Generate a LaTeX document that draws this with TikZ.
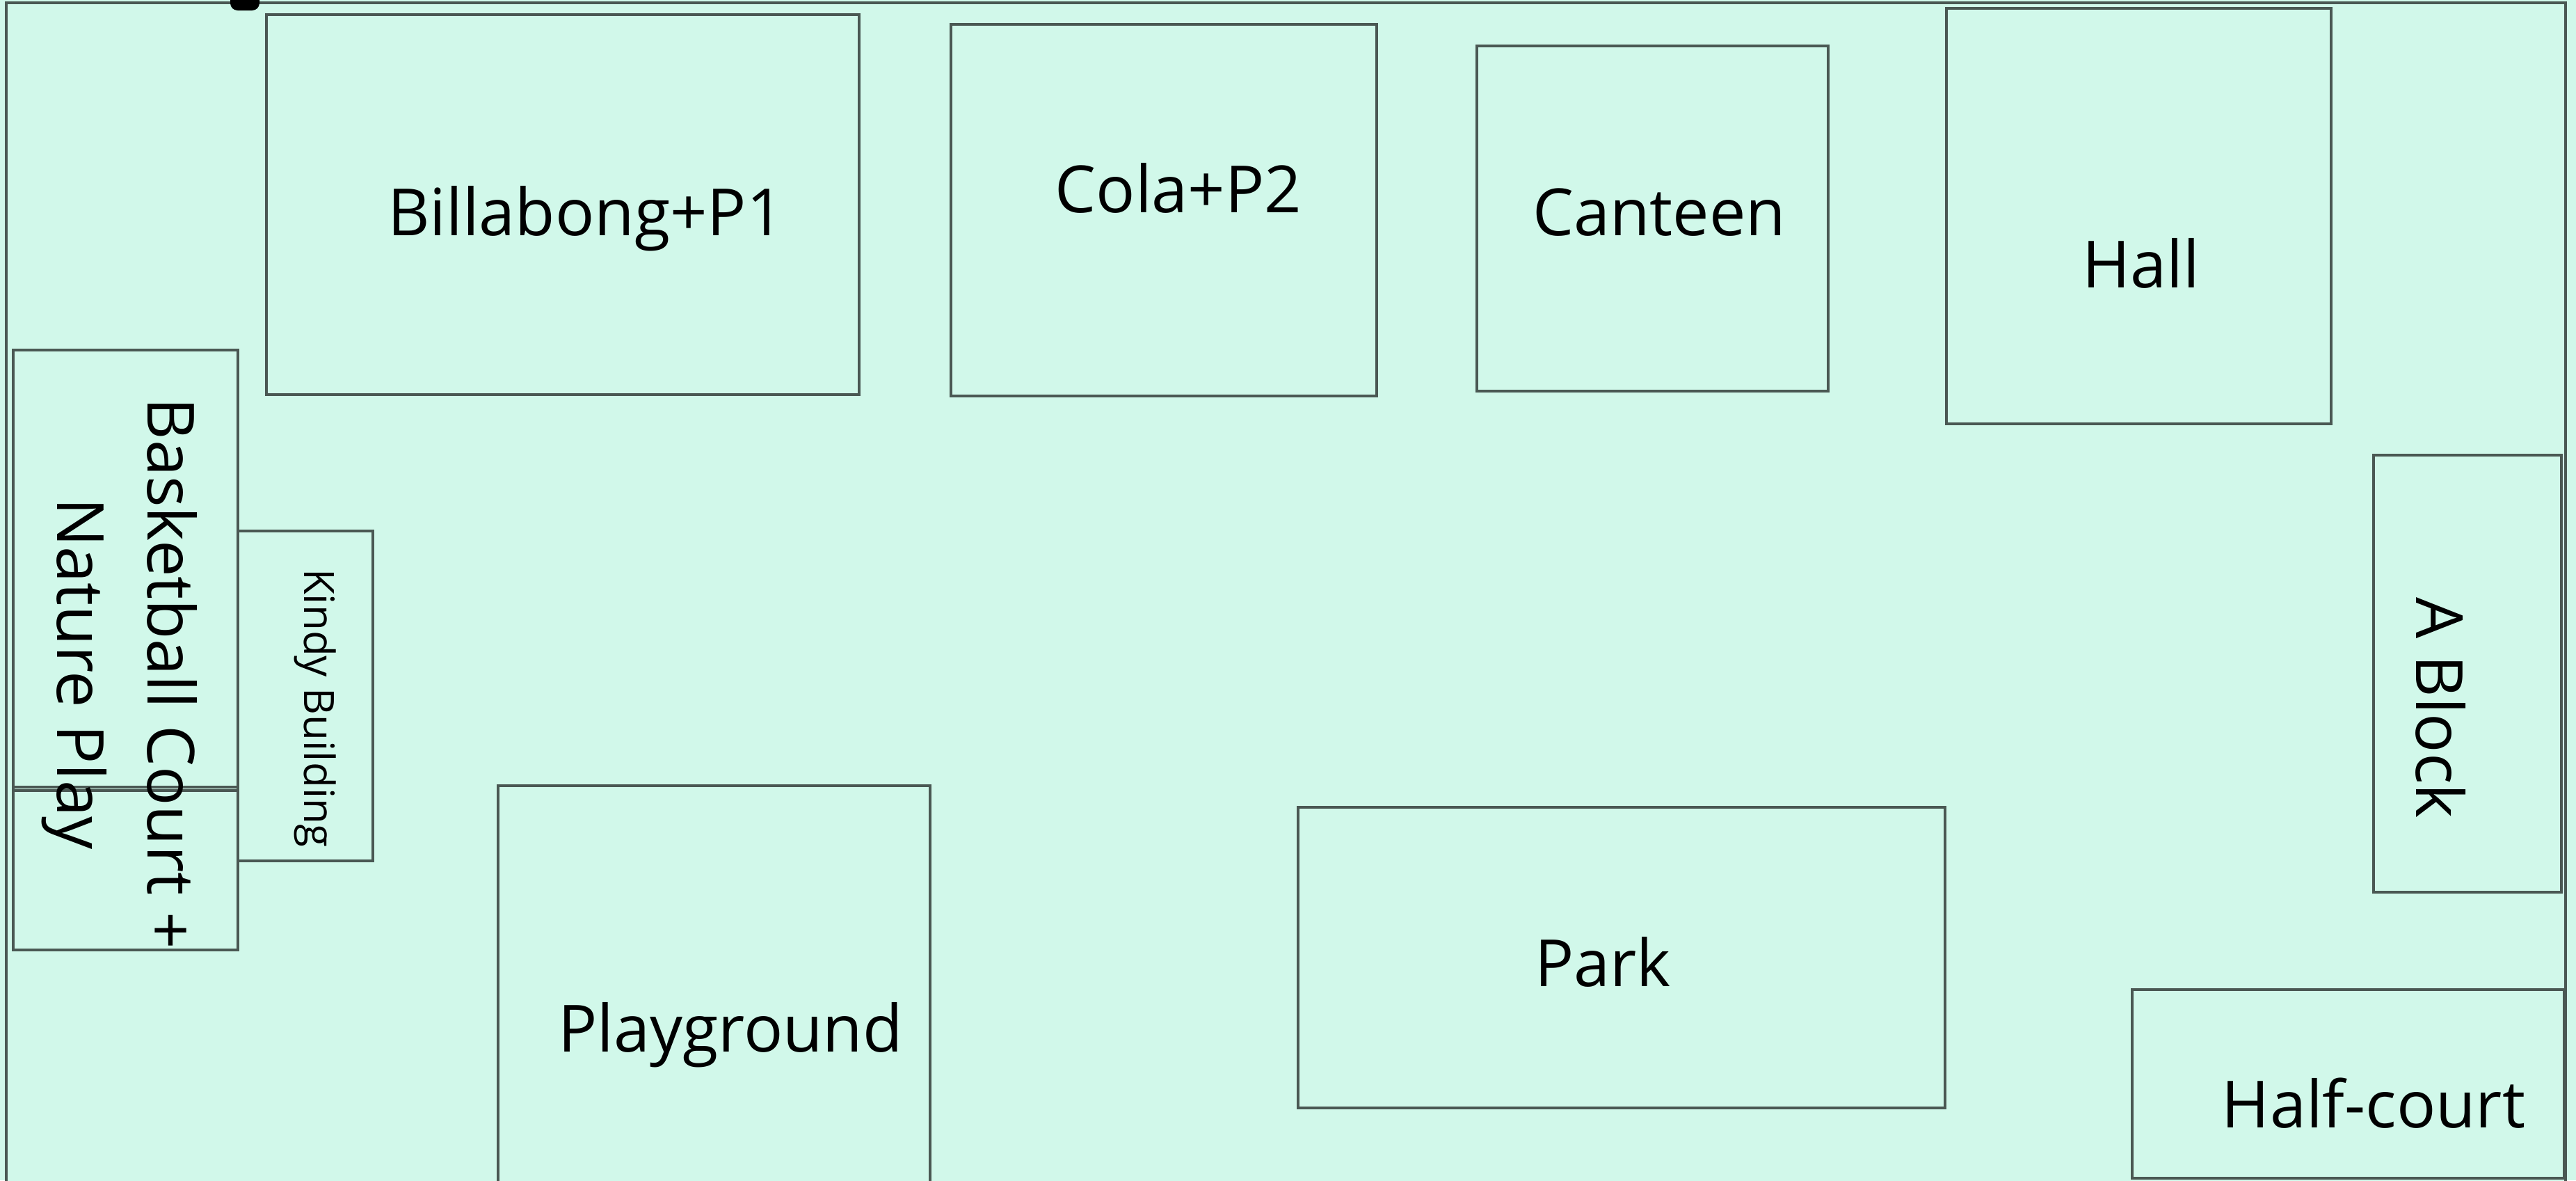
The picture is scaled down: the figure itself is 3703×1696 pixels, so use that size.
\documentclass[tikz,border=0pt]{standalone}
\usepackage{fontspec}
\setmainfont{Open Sans}
\definecolor{mint}{HTML}{D1F8EA}
\definecolor{edge}{HTML}{4A5853}
\begin{document}
\begin{tikzpicture}[x=0.01cm,y=-0.01cm,
  area/.style={draw=edge,line width=1.1pt,fill=mint},
  lbl/.style={font=\fontsize{26.6}{35}\selectfont,inner sep=0pt,text height=0.714em,text depth=0pt,anchor=center},
  smalllbl/.style={font=\fontsize{17.1}{20}\selectfont,inner sep=0pt,text height=0.714em,text depth=0pt,anchor=center}]
\useasboundingbox (0,0) rectangle (3703,1696);
\clip (0,0) rectangle (3703,1696);
\fill[mint] (0,0) rectangle (3703,1696);
% outer frame
\draw[area] (9,4) rectangle (3688,1720);
% black mark at top
\fill[black,rounded corners=3pt] (331,-20) rectangle (373,15);
% areas
\draw[area] (383,21) rectangle (1235,567);
\draw[area] (1367,35) rectangle (1979,569);
\draw[area] (2123,66) rectangle (2628,562);
\draw[area] (2798,12) rectangle (3351,609);
\draw[area] (3412,654) rectangle (3682,1282);
\draw[area] (3065,1422) rectangle (3686,1693);
\draw[area] (1866,1160) rectangle (2796,1592);
\draw[area] (716,1129) rectangle (1337,1720);
\draw[area] (19,503) rectangle (342,1365);
\draw[draw=edge,line width=1.1pt] (19,1131) -- (342,1131);
\draw[draw=edge,line width=1.1pt] (19,1136) -- (342,1136);
\draw[area] (342,763) rectangle (536,1237);
% labels
\node[lbl] (billabong) at (842,326) {Billabong+P1};
\node[lbl] (cola) at (1694,293) {Cola+P2};
\node[lbl] (canteen) at (2385,326) {Canteen};
\node[lbl] (hall) at (3078,401) {Hall};
\node[lbl] (park) at (2304,1405) {Park};
\node[lbl] (playground) at (1050,1499) {Playground};
\node[lbl] (halfcourt) at (3412,1608) {Half-court};
\node[lbl,rotate=-90] (ablock) at (3486,1017) {A Block};
\node[smalllbl,rotate=-90] (kindy) at (450,1017) {Kindy Building};
\node[font=\fontsize{26.6}{37}\selectfont,inner sep=0pt,align=center,rotate=-90,anchor=center] (basket) at (172,968) {Basketball Court +\\Nature Play};
\end{tikzpicture}
\end{document}
